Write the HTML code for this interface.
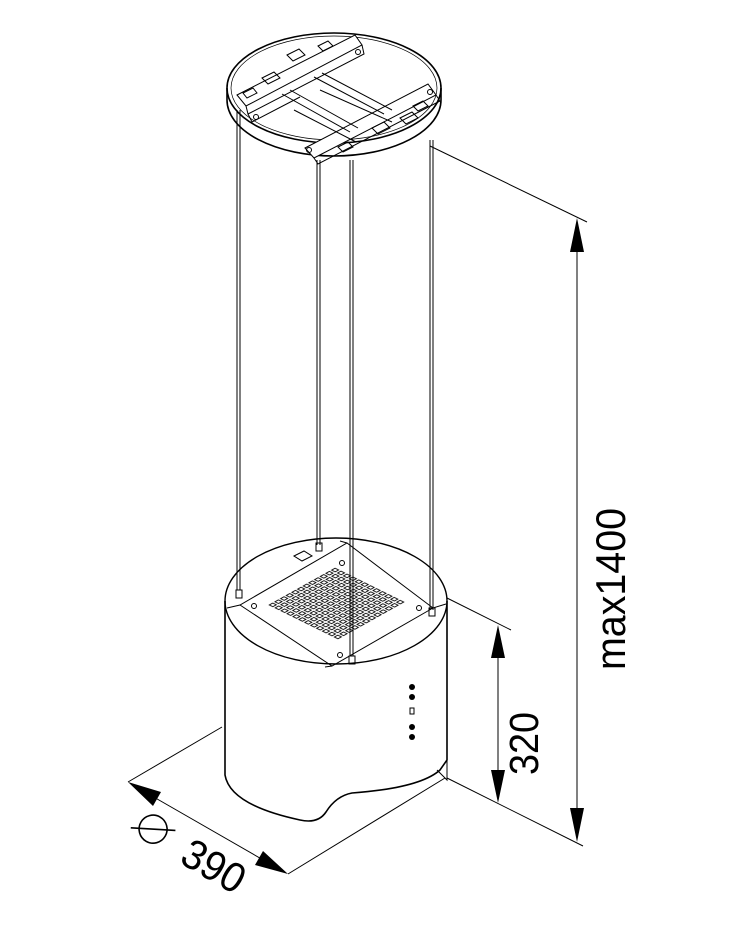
<!DOCTYPE html>
<html><head><meta charset="utf-8"><style>html,body{margin:0;padding:0;background:#fff}svg{display:block}</style></head>
<body>
<svg width="732" height="925" viewBox="0 0 732 925" xmlns="http://www.w3.org/2000/svg" font-family="Liberation Sans, sans-serif">
<defs>
<pattern id="g" patternUnits="userSpaceOnUse" width="1" height="1">
<rect x="0.2" y="0.2" width="0.6" height="0.6" fill="none" stroke="#000" stroke-width="0.16"/>
</pattern>
</defs>
<g fill="none" stroke="#000" stroke-width="1">
<path d="M227,88 L227,100 A107,56 0 0 0 441,100 L441,88" stroke-width="1.6"/>
<ellipse cx="334" cy="88" rx="107" ry="55" stroke-width="1.6"/>
<ellipse cx="334" cy="88" rx="103" ry="52" stroke-width="0.7"/>
<path d="M237,95 L355,35 L362,45 L246,106 Z" fill="#fff"/>
<path d="M246,106 L248,114 L364,54 L362,45"/>
<path d="M248,114 L252,122 L300,97"/>
<path d="M305,148 L428,84 L436,95 L314,158 Z" fill="#fff"/>
<path d="M314,158 L318,164 L440,101 L436,95"/>
<path d="M282,94 L350,132 M290,90 L358,128 M294,110 L356,142"/>
<path d="M314,77 L384,114 M322,73 L392,110 M320,90 L392,122"/>
<path d="M262,78 l12,-6 l6,6 l-12,6 Z M287,55 l12,-6 l6,6 l-12,6 Z M318,46 l10,-5 l5,5 l-10,5 Z M243,93 l10,-5 l4,5 l-10,5Z"/>
<path d="M372,128 l12,-6 l6,6 l-12,6 Z M400,118 l12,-6 l6,6 l-12,6 Z M413,106 l10,-5 l5,5 l-10,5Z M338,147 l10,-5 l5,5 l-10,5Z"/>
<circle cx="256" cy="117" r="2.5"/><circle cx="358" cy="52" r="2.5"/><circle cx="309" cy="150" r="2.5"/><circle cx="430" cy="92" r="2.5"/>
<path d="M237,110 V590 M240,110 V590"/>
<path d="M317,160 V545 M320,160 V545"/>
<path d="M350,160 V656 M353,160 V656"/>
<path d="M430,140 V610 M433,140 V610"/>
<rect x="236" y="590" width="6" height="8"/><rect x="316" y="543" width="6" height="8"/>
<rect x="349" y="656" width="6" height="8"/><rect x="429" y="608" width="6" height="8"/>
<ellipse cx="336" cy="601" rx="111" ry="63" stroke-width="1.4"/>
<path d="M225,601 V775 Q230,805 300,820 Q318,824 326,812 Q336,796 352,793 Q420,788 440,770 L447,760 V601" stroke-width="1.6"/>
<path d="M437,770 L447,780 L447,760" />
<path d="M227,608 L240,605 L347,543 L433,608 L446,604 M240,605 L332,666 L433,608 M332,666 L325,667 M347,543 L340,541"/>
<path d="M294,556 l10,-5 l8,5 l-10,5 Z"/>
<circle cx="254" cy="606" r="2.5"/><circle cx="419" cy="608" r="2.5"/><circle cx="342" cy="563" r="2.5"/><circle cx="340" cy="655" r="2.5"/>
<g transform="matrix(5.667,-3.167,5.917,2.917,267,605)">
<rect x="0" y="0" width="12" height="12" fill="url(#g)" stroke="none"/>
</g>
<g fill="#000" stroke="none"><circle cx="412" cy="687" r="3"/><circle cx="412" cy="697" r="3"/><circle cx="412" cy="727" r="3"/><circle cx="412" cy="737" r="3"/></g>
<rect x="410" y="708" width="4" height="6"/>
<path d="M430,146 L587,222 M447,778 L583,846 M447,598 L511,630 M222,727 L128,782 M288,874 L445,778"/>
<path d="M577,240 V820 M498,645 V785 M145,792 L272,865" stroke-width="1"/>
</g>
<g fill="#000">
<path d="M577,218 L570,252 L584,252 Z"/>
<path d="M577,842 L570,808 L584,808 Z"/>
<path d="M498,625 L491,658 L505,658 Z"/>
<path d="M498,803 L491,770 L505,770 Z"/>
<path d="M128,782 L161,792 L153,806 Z"/>
<path d="M288,874 L255,865 L263,851 Z"/>
</g>
<text transform="translate(625,670) rotate(-90)" font-size="42" textLength="162" lengthAdjust="spacingAndGlyphs">max1400</text>
<text transform="translate(538,775) rotate(-90)" font-size="41" textLength="63" lengthAdjust="spacingAndGlyphs">320</text>
<g transform="translate(178,862) rotate(30)">
<circle cx="-38" cy="-16" r="14" fill="none" stroke="#000" stroke-width="1.6"/>
<path d="M-58,-6 L-18,-26" stroke="#000" stroke-width="1.6"/>
<text x="0" y="0" font-size="42" textLength="66" lengthAdjust="spacingAndGlyphs">390</text>
</g>
</svg>
</body></html>
